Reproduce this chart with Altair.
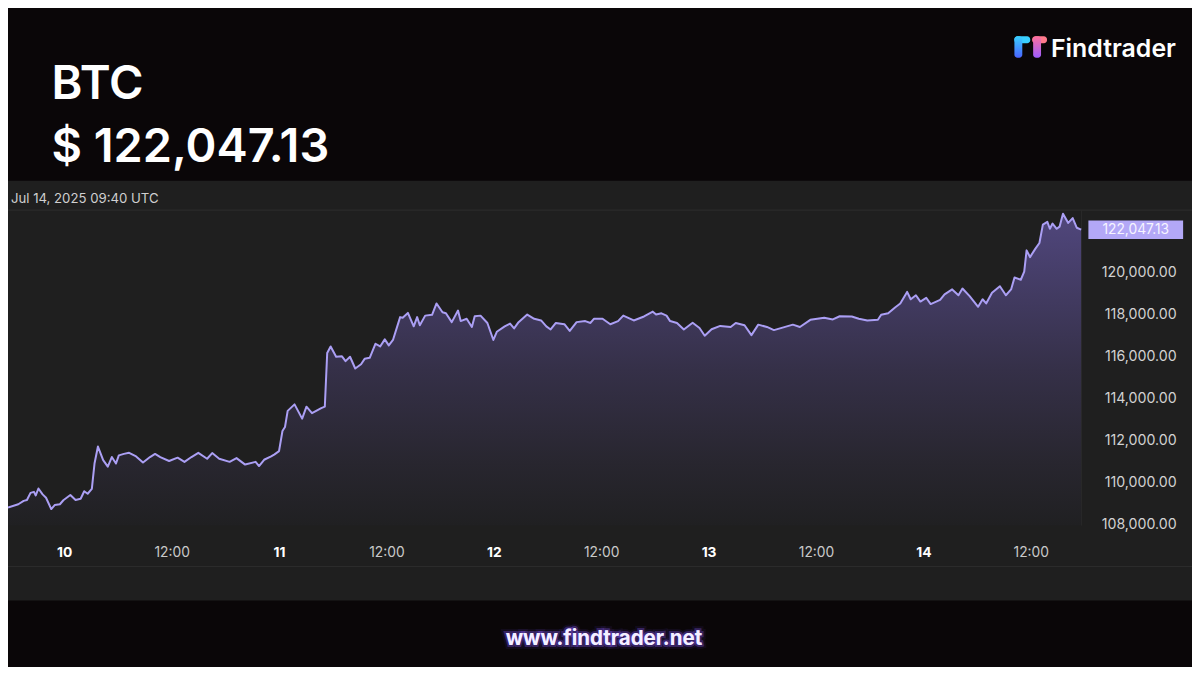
import altair as alt
import pandas as pd

# ---------------- data ----------------
times = [
    "2025-07-09T17:43:00Z", "2025-07-09T18:52:00Z", "2025-07-09T19:28:00Z", "2025-07-09T19:50:00Z",
    "2025-07-09T20:14:00Z", "2025-07-09T20:37:00Z", "2025-07-09T20:49:00Z", "2025-07-09T21:07:00Z",
    "2025-07-09T21:35:00Z", "2025-07-09T21:58:00Z", "2025-07-09T22:33:00Z", "2025-07-09T22:56:00Z",
    "2025-07-09T23:31:00Z", "2025-07-09T23:54:00Z",
    "2025-07-10T00:41:00Z", "2025-07-10T01:16:00Z", "2025-07-10T01:50:00Z", "2025-07-10T02:14:00Z",
    "2025-07-10T02:37:00Z", "2025-07-10T03:05:00Z", "2025-07-10T03:23:00Z", "2025-07-10T03:46:00Z",
    "2025-07-10T04:21:00Z", "2025-07-10T04:52:00Z", "2025-07-10T05:19:00Z", "2025-07-10T05:47:00Z",
    "2025-07-10T06:06:00Z", "2025-07-10T06:40:00Z", "2025-07-10T07:15:00Z", "2025-07-10T08:02:00Z",
    "2025-07-10T08:48:00Z", "2025-07-10T09:35:00Z", "2025-07-10T10:09:00Z", "2025-07-10T10:44:00Z",
    "2025-07-10T11:43:00Z", "2025-07-10T12:40:00Z", "2025-07-10T13:26:00Z", "2025-07-10T14:13:00Z",
    "2025-07-10T14:59:00Z", "2025-07-10T15:58:00Z", "2025-07-10T16:32:00Z", "2025-07-10T17:19:00Z",
    "2025-07-10T18:29:00Z", "2025-07-10T19:15:00Z", "2025-07-10T20:13:00Z", "2025-07-10T21:23:00Z",
    "2025-07-10T21:46:00Z", "2025-07-10T22:20:00Z", "2025-07-10T23:07:00Z", "2025-07-10T23:30:00Z",
    "2025-07-11T00:00:00Z", "2025-07-11T00:23:00Z", "2025-07-11T00:40:00Z", "2025-07-11T00:58:00Z",
    "2025-07-11T01:44:00Z", "2025-07-11T02:35:00Z", "2025-07-11T03:04:00Z", "2025-07-11T03:41:00Z",
    "2025-07-11T04:43:00Z", "2025-07-11T05:07:00Z", "2025-07-11T05:23:00Z", "2025-07-11T05:46:00Z",
    "2025-07-11T06:23:00Z", "2025-07-11T07:02:00Z", "2025-07-11T07:26:00Z", "2025-07-11T07:56:00Z",
    "2025-07-11T08:31:00Z", "2025-07-11T09:10:00Z", "2025-07-11T09:34:00Z", "2025-07-11T10:08:00Z",
    "2025-07-11T10:47:00Z", "2025-07-11T11:18:00Z", "2025-07-11T11:49:00Z", "2025-07-11T12:16:00Z",
    "2025-07-11T12:44:00Z", "2025-07-11T13:32:00Z", "2025-07-11T13:49:00Z", "2025-07-11T14:24:00Z",
    "2025-07-11T15:03:00Z", "2025-07-11T15:26:00Z", "2025-07-11T15:44:00Z", "2025-07-11T16:20:00Z",
    "2025-07-11T17:06:00Z", "2025-07-11T17:36:00Z", "2025-07-11T18:16:00Z", "2025-07-11T18:39:00Z",
    "2025-07-11T19:18:00Z", "2025-07-11T20:00:00Z", "2025-07-11T20:18:00Z", "2025-07-11T20:58:00Z",
    "2025-07-11T21:33:00Z", "2025-07-11T21:52:00Z", "2025-07-11T22:31:00Z", "2025-07-11T23:17:00Z",
    "2025-07-11T23:57:00Z",
    "2025-07-12T00:20:00Z", "2025-07-12T01:13:00Z", "2025-07-12T01:49:00Z", "2025-07-12T02:16:00Z",
    "2025-07-12T02:46:00Z", "2025-07-12T03:44:00Z", "2025-07-12T04:31:00Z", "2025-07-12T05:17:00Z",
    "2025-07-12T05:52:00Z", "2025-07-12T06:21:00Z", "2025-07-12T06:56:00Z", "2025-07-12T07:53:00Z",
    "2025-07-12T08:29:00Z", "2025-07-12T09:15:00Z", "2025-07-12T10:13:00Z", "2025-07-12T10:48:00Z",
    "2025-07-12T11:11:00Z", "2025-07-12T12:09:00Z", "2025-07-12T13:01:00Z", "2025-07-12T13:53:00Z",
    "2025-07-12T14:28:00Z", "2025-07-12T15:38:00Z", "2025-07-12T16:47:00Z", "2025-07-12T17:46:00Z",
    "2025-07-12T18:08:00Z", "2025-07-12T18:44:00Z", "2025-07-12T19:18:00Z", "2025-07-12T19:42:00Z",
    "2025-07-12T20:28:00Z", "2025-07-12T21:14:00Z", "2025-07-12T22:13:00Z", "2025-07-12T22:59:00Z",
    "2025-07-12T23:34:00Z",
    "2025-07-13T00:20:00Z", "2025-07-13T01:18:00Z", "2025-07-13T02:28:00Z", "2025-07-13T03:02:00Z",
    "2025-07-13T04:01:00Z", "2025-07-13T04:47:00Z", "2025-07-13T05:33:00Z", "2025-07-13T06:31:00Z",
    "2025-07-13T07:18:00Z", "2025-07-13T08:16:00Z", "2025-07-13T09:25:00Z", "2025-07-13T10:12:00Z",
    "2025-07-13T11:22:00Z", "2025-07-13T12:55:00Z", "2025-07-13T13:53:00Z", "2025-07-13T14:39:00Z",
    "2025-07-13T16:00:00Z", "2025-07-13T16:47:00Z", "2025-07-13T17:44:00Z", "2025-07-13T18:55:00Z",
    "2025-07-13T19:17:00Z", "2025-07-13T20:04:00Z", "2025-07-13T20:50:00Z", "2025-07-13T21:25:00Z",
    "2025-07-13T22:11:00Z", "2025-07-13T22:35:00Z", "2025-07-13T23:10:00Z", "2025-07-13T23:40:00Z",
    "2025-07-14T00:19:00Z", "2025-07-14T00:49:00Z", "2025-07-14T01:52:00Z", "2025-07-14T02:22:00Z",
    "2025-07-14T03:13:00Z", "2025-07-14T03:55:00Z", "2025-07-14T04:22:00Z", "2025-07-14T05:10:00Z",
    "2025-07-14T06:07:00Z", "2025-07-14T06:37:00Z", "2025-07-14T07:01:00Z", "2025-07-14T07:40:00Z",
    "2025-07-14T08:33:00Z", "2025-07-14T09:13:00Z", "2025-07-14T09:48:00Z", "2025-07-14T10:11:00Z",
    "2025-07-14T10:53:00Z", "2025-07-14T11:16:00Z", "2025-07-14T11:32:00Z", "2025-07-14T11:55:00Z",
    "2025-07-14T12:30:00Z", "2025-07-14T12:58:00Z", "2025-07-14T13:21:00Z", "2025-07-14T13:51:00Z",
    "2025-07-14T14:08:00Z", "2025-07-14T14:26:00Z", "2025-07-14T14:54:00Z", "2025-07-14T15:13:00Z",
    "2025-07-14T15:36:00Z", "2025-07-14T16:11:00Z", "2025-07-14T16:41:00Z", "2025-07-14T17:08:00Z",
    "2025-07-14T17:38:00Z",
]
prices = [
    108805, 108960, 109120, 109160, 109500, 109550, 109380, 109710,
    109430, 109270, 108730, 108920, 108960, 109150,
    109400, 109160, 109220, 109580, 109460, 109690, 110900, 111710,
    111060, 110750, 111210, 110900, 111290, 111360, 111410, 111240,
    110950, 111210, 111360, 111210, 111020, 111180, 110980, 111210,
    111410, 111130, 111400, 111130, 110980, 111160, 110850, 110980,
    110780, 111080, 111240, 111340,
    111490, 112450, 112640, 113410, 113720, 113040, 113610, 113300,
    113540, 113610, 116170, 116480, 115990, 116010, 115780, 115990,
    115430, 115630, 115890, 115940, 116610, 116480, 116820, 116530,
    116790, 117880, 117850, 118080, 117440, 117880, 117490, 117950,
    117990, 118530, 118110, 118060, 117640, 118190, 117690, 117800,
    117410, 117920, 117950, 117600, 116790,
    117180, 117440, 117570, 117340, 117640, 118000, 117800, 117720,
    117440, 117290, 117600, 117540, 117220, 117640, 117690, 117600,
    117800, 117800, 117540, 117690, 117950, 117720, 117910, 118140,
    118000, 118060, 117950, 117690, 117600, 117290, 117610, 117360,
    116990,
    117300, 117460, 117410, 117600, 117490, 117020, 117520, 117410,
    117260, 117380, 117520, 117410, 117750, 117850, 117770, 117920,
    117910, 117800, 117720, 117750, 117990, 118060, 118340, 118530,
    119080, 118730, 118920, 118620,
    118800, 118500, 118700, 118960, 119200, 118920, 119240, 118880,
    118370, 118730, 118530, 119040, 119350, 118920, 119200, 119770,
    119660, 120050, 121060, 120740, 121130, 121410, 122290, 122420,
    122090, 122340, 122090, 122190, 122810, 122370, 122600, 122140,
    122047.13,
]
y_tick_values = [108000, 110000, 112000, 114000, 116000, 118000, 120000]
x_tick_values = [
    "2025-07-10T00:00:00Z", "2025-07-10T12:00:00Z", "2025-07-11T00:00:00Z", "2025-07-11T12:00:00Z",
    "2025-07-12T00:00:00Z", "2025-07-12T12:00:00Z", "2025-07-13T00:00:00Z", "2025-07-13T12:00:00Z",
    "2025-07-14T00:00:00Z", "2025-07-14T12:00:00Z",
]
x_domain = ["2025-07-09T17:43:00Z", "2025-07-14T17:40:00Z"]
y_domain = [107950, 122980]

symbol = "BTC"
price_title = "$ 122,047.13"
stamp_label = "Jul 14, 2025 09:40 UTC"
brand = "Findtrader"
site = "www.findtrader.net"

# ---------------- layout (reference pixels -> chart pixels) ----------------
W_TOTAL, H_TOTAL = 1184, 659
SX, SY = W_TOTAL / 1200, H_TOTAL / 675
PLOT_TOP = 207 * SY
PLOT_BOTTOM = 530 * SY
PLOT_RIGHT = 1088 * SX
W = PLOT_RIGHT
H = PLOT_BOTTOM - PLOT_TOP


def gx(x):
    return x * SX


def gy(y):
    return y * SY - PLOT_TOP


def ms(s):
    return int(pd.Timestamp(s).value // 10**6)


BG = "#0a0608"
PANEL = "#1f1f1f"
SEP = "#2d2d2d"
LINE = "#ab9ff4"
FONT = "Inter"

df = pd.DataFrame({"t": times, "price": prices})
tag_df = pd.DataFrame({"t": [times[-1]], "price": [prices[-1]]})
one = pd.DataFrame({"k": [0]})

y_enc = alt.Y(
    "price:Q",
    scale=alt.Scale(domain=y_domain, nice=False, zero=False),
    axis=alt.Axis(
        orient="right", values=y_tick_values, format=",.2f", title="",
        labelAlign="right", labelBaseline="middle", labelPadding=gx(1184) - PLOT_RIGHT,
        tickSize=0, domain=False, grid=False, labelFont=FONT, labelFontSize=14.2,
        labelColor="#d2d2d2", zindex=1,
    ),
)
x_enc = alt.X(
    "t:T",
    scale=alt.Scale(type="utc", domain=[ms(v) for v in x_domain]),
    axis=alt.Axis(
        values=[ms(v) for v in x_tick_values], title="",
        labelExpr="utchours(datum.value) == 0 ? '' + utcdate(datum.value) : utcFormat(datum.value, '%H:%M')",
        labelFontWeight={"condition": {"test": "utchours(datum.value) == 0", "value": "bold"}, "value": "normal"},
        labelColor={"condition": {"test": "utchours(datum.value) == 0", "value": "#ffffff"}, "value": "#c9c9c9"},
        labelFont=FONT, labelFontSize=13.8, labelBaseline="middle", labelPadding=(558 - 530) * SY,
        labelFlush=False, labelOverlap=False, tickSize=0, domain=False, grid=False, zindex=1,
    ),
)


def deco_rect(x1, x2, y1, y2, fill, radius=0):
    return alt.Chart(one).mark_rect(fill=fill, cornerRadius=radius).encode(
        x=alt.value(gx(x1)), x2=alt.value(gx(x2)), y=alt.value(gy(y1)), y2=alt.value(gy(y2))
    )


def hrule(x1, x2, y, color):
    return alt.Chart(one).mark_rule(color=color, strokeWidth=1).encode(
        x=alt.value(gx(x1)), x2=alt.value(gx(x2)), y=alt.value(gy(y))
    )


def vrule(x, y1, y2, color):
    return alt.Chart(one).mark_rule(color=color, strokeWidth=1).encode(
        x=alt.value(gx(x)), y=alt.value(gy(y1)), y2=alt.value(gy(y2))
    )


def deco_text(txt, x, y, size, weight, color, align="left", **kw):
    return alt.Chart(one).mark_text(
        text=txt, font=FONT, fontSize=size * SY, fontWeight=weight, color=color,
        align=align, baseline="alphabetic", **kw
    ).encode(x=alt.value(gx(x)), y=alt.value(gy(y)))


panel = deco_rect(0, 1200, 177, 607, PANEL)
sep_top = hrule(0, 1200, 207, SEP)
sep_bottom = hrule(0, 1200, 572, SEP)
sep_right = vrule(1088, 207, 530, "#292929")

area = alt.Chart(df).mark_area(
    clip=True,
    color=alt.Gradient(
        gradient="linear",
        stops=[
            alt.GradientStop(color="#202022", offset=0),
            alt.GradientStop(color="#28262f", offset=0.2),
            alt.GradientStop(color="#353048", offset=0.5),
            alt.GradientStop(color="#4c4375", offset=0.92),
            alt.GradientStop(color="#51477b", offset=1),
        ],
        x1=1, x2=1, y1=1, y2=0,
    ),
).encode(x=x_enc, y=y_enc, y2=alt.datum(y_domain[0]))

line = alt.Chart(df).mark_line(color=LINE, strokeWidth=2, strokeJoin="round").encode(x=x_enc, y=y_enc)

tag_w = 96 * SX
tag_h = 19 * SY
r = tag_h / tag_w
tag_box = alt.Chart(tag_df).mark_point(
    shape=f"M-1,-{r:.4f}L1,-{r:.4f}L1,{r:.4f}L-1,{r:.4f}Z",
    size=tag_w * tag_w, filled=True, fill="#b3a8f7", opacity=1, strokeWidth=0,
).encode(x=alt.value(gx(1143)), y=y_enc)
tag_text = alt.Chart(tag_df).mark_text(
    font=FONT, fontSize=13.8, color="#f6f4ff", align="center", baseline="middle"
).encode(x=alt.value(gx(1143)), y=y_enc, text=alt.Text("price:Q", format=",.2f"))

stamp = deco_text(stamp_label, 3, 200, 13.5, "normal", "#d0d0d0")
title1 = deco_text(symbol, 44, 93, 48, 600, "#ffffff")
title2 = deco_text(price_title, 44, 158, 48, 600, "#ffffff")
brand_txt = deco_text(brand, 1057, 50, 25.5, 600, "#ffffff")

logo = [
    deco_rect(1020, 1036, 29, 36, "#39cfff", 3),
    alt.Chart(one).mark_rect(
        cornerRadius=3,
        fill=alt.Gradient(gradient="linear", stops=[alt.GradientStop(color="#39cfff", offset=0),
                                                    alt.GradientStop(color="#4a63ff", offset=1)],
                          x1=0, x2=0, y1=0, y2=1),
    ).encode(x=alt.value(gx(1020)), x2=alt.value(gx(1028)), y=alt.value(gy(29)), y2=alt.value(gy(51))),
    deco_rect(1038, 1053, 29, 36, "#ff7b8c", 3),
    alt.Chart(one).mark_rect(
        cornerRadius=3,
        fill=alt.Gradient(gradient="linear", stops=[alt.GradientStop(color="#ff6f9e", offset=0),
                                                    alt.GradientStop(color="#9d5cff", offset=1)],
                          x1=0, x2=0, y1=0, y2=1),
    ).encode(x=alt.value(gx(1039)), x2=alt.value(gx(1047)), y=alt.value(gy(29)), y2=alt.value(gy(51))),
]

glow1 = deco_text(site, 604, 652, 21, 700, "#7b4dff", align="center",
                  stroke="#7b4dff", strokeWidth=8, strokeOpacity=0.18, opacity=0.5)
glow2 = deco_text(site, 604, 652, 21, 700, "#8a5cff", align="center",
                  stroke="#8a5cff", strokeWidth=4, strokeOpacity=0.4, opacity=0.8)
site_txt = deco_text(site, 604, 652, 21, 700, "#f4f0ff", align="center")

chart = alt.layer(
    panel, sep_top, sep_bottom, sep_right, area, line, tag_box, tag_text,
    stamp, title1, title2, brand_txt, *logo, glow1, glow2, site_txt,
).properties(
    width=W, height=H,
    autosize=alt.AutoSizeParams(type="none"),
    padding={"left": 0, "top": PLOT_TOP, "right": W_TOTAL - PLOT_RIGHT, "bottom": H_TOTAL - PLOT_BOTTOM},
    background=BG,
).configure_view(stroke="transparent")

chart.save("out.html", embed_options={"renderer": "svg", "actions": False})
